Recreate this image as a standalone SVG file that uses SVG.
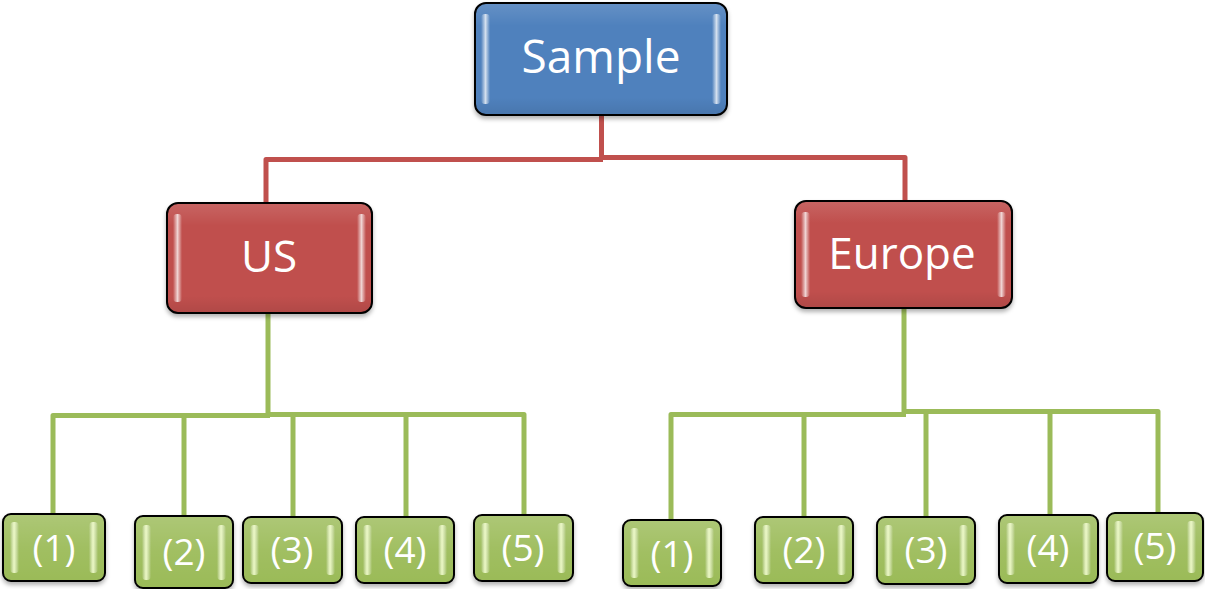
<svg xmlns="http://www.w3.org/2000/svg" width="1205" height="589" viewBox="0 0 1205 589">
  <defs>
    <filter id="shadow" x="-10%" y="-10%" width="120%" height="130%">
      <feDropShadow dx="0" dy="3" stdDeviation="2" flood-color="#000" flood-opacity="0.3"/>
    </filter>
    <!-- glossy sheen from top to bottom -->
    <linearGradient id="sheen" x1="0" y1="0" x2="0" y2="1">
      <stop offset="0" stop-color="#fff" stop-opacity="0.12"/>
      <stop offset="0.2" stop-color="#fff" stop-opacity="0"/>
      <stop offset="0.85" stop-color="#000" stop-opacity="0"/>
      <stop offset="1" stop-color="#000" stop-opacity="0.08"/>
    </linearGradient>
    <!-- lighter body for the small items -->
    <linearGradient id="leafSheen" x1="0" y1="0" x2="0" y2="1">
      <stop offset="0" stop-color="#fff" stop-opacity="0.18"/>
      <stop offset="0.5" stop-color="#fff" stop-opacity="0.06"/>
      <stop offset="1" stop-color="#fff" stop-opacity="0"/>
    </linearGradient>
    <!-- bevel highlight strip -->
    <linearGradient id="hl" x1="0" y1="0" x2="1" y2="0">
      <stop offset="0" stop-color="#fff" stop-opacity="0"/>
      <stop offset="0.5" stop-color="#fff" stop-opacity="0.75"/>
      <stop offset="1" stop-color="#fff" stop-opacity="0"/>
    </linearGradient>
    <linearGradient id="hlLeaf" x1="0" y1="0" x2="1" y2="0">
      <stop offset="0" stop-color="#fff" stop-opacity="0"/>
      <stop offset="0.45" stop-color="#f4ffd0" stop-opacity="0.9"/>
      <stop offset="1" stop-color="#fff" stop-opacity="0"/>
    </linearGradient>
  </defs>
  <style>
    .box { stroke: #000; stroke-width: 2; filter: url(#shadow); }
    .blue { fill: #4f81bd; }
    .red { fill: #c0504d; }
    .green { fill: #9bbb59; }
    .gloss { fill: url(#sheen); }
    .lgloss { fill: url(#leafSheen); }
    .hl { fill: url(#hl); }
    .hll { fill: url(#hlLeaf); }
    .lbl { font-family: "Open Sans", "Liberation Sans", sans-serif; fill: #fff; text-anchor: middle; }
    .big { font-size: 46px; }
    .mid { font-size: 44px; }
    .small { font-size: 37px; }
    .cr { fill: none; stroke: #c0504d; stroke-width: 5; stroke-linejoin: round; }
    .cg { fill: none; stroke: #9bbb59; stroke-width: 5; stroke-linejoin: round; }
  </style>

  <g id="connectors">
    <!-- root to regions -->
    <path class="cr" d="M601.5 115 V158"/>
    <path class="cr" d="M266 205 V159.5 H603"/>
    <path class="cr" d="M600 157.5 H905 V201"/>
    <!-- US to its items -->
    <path class="cg" d="M268 313 V415"/>
    <path class="cg" d="M53 514 V415.5 H270"/>
    <path class="cg" d="M266 414.5 H524 V515"/>
    <path class="cg" d="M184 415.5 V516"/>
    <path class="cg" d="M293 414.5 V517"/>
    <path class="cg" d="M406 414.5 V517"/>
    <!-- Europe to its items -->
    <path class="cg" d="M904 308 V412"/>
    <path class="cg" d="M671 520 V414.5 H906"/>
    <path class="cg" d="M902 411.5 H1158 V513"/>
    <path class="cg" d="M804 414.5 V517"/>
    <path class="cg" d="M926 411.5 V517"/>
    <path class="cg" d="M1050 411.5 V515"/>
  </g>

  <g id="node-sample">
    <rect class="box blue" x="475" y="3" width="252" height="112" rx="11"/>
    <rect class="gloss" x="476" y="4" width="250" height="110" rx="10"/>
    <rect class="hl" x="481" y="14" width="9" height="90" rx="4"/>
    <rect class="hl" x="712" y="14" width="9" height="90" rx="4"/>
    <text class="lbl big" x="601" y="73">Sample</text>
  </g>

  <g id="node-us">
    <rect class="box red" x="167" y="203" width="205" height="110" rx="11"/>
    <rect class="gloss" x="168" y="204" width="203" height="108" rx="10"/>
    <rect class="hl" x="173" y="214" width="9" height="88" rx="4"/>
    <rect class="hl" x="357" y="214" width="9" height="88" rx="4"/>
    <text class="lbl mid" x="269" y="272">US</text>
  </g>

  <g id="node-europe">
    <rect class="box red" x="795" y="201" width="217" height="107" rx="11"/>
    <rect class="gloss" x="796" y="202" width="215" height="105" rx="10"/>
    <rect class="hl" x="801" y="212" width="9" height="85" rx="4"/>
    <rect class="hl" x="997" y="212" width="9" height="85" rx="4"/>
    <text class="lbl mid" x="902" y="269">Europe</text>
  </g>

  <g id="node-us-1">
    <rect class="box green" x="3" y="514" width="102" height="67" rx="8"/>
    <rect class="lgloss" x="4" y="515" width="100" height="65" rx="7"/>
    <rect class="hll" x="10" y="522" width="9" height="51" rx="4"/>
    <rect class="hll" x="89" y="522" width="9" height="51" rx="4"/>
    <text class="lbl small" x="54" y="561">(1)</text>
  </g>
  <g id="node-us-2">
    <rect class="box green" x="135" y="516" width="98" height="72" rx="8"/>
    <rect class="lgloss" x="136" y="517" width="96" height="70" rx="7"/>
    <rect class="hll" x="142" y="525" width="9" height="55" rx="4"/>
    <rect class="hll" x="217" y="525" width="9" height="55" rx="4"/>
    <text class="lbl small" x="184" y="565">(2)</text>
  </g>
  <g id="node-us-3">
    <rect class="box green" x="243" y="517" width="99" height="66" rx="8"/>
    <rect class="lgloss" x="244" y="518" width="97" height="64" rx="7"/>
    <rect class="hll" x="250" y="525" width="9" height="50" rx="4"/>
    <rect class="hll" x="326" y="525" width="9" height="50" rx="4"/>
    <text class="lbl small" x="292" y="563">(3)</text>
  </g>
  <g id="node-us-4">
    <rect class="box green" x="356" y="517" width="98" height="66" rx="8"/>
    <rect class="lgloss" x="357" y="518" width="96" height="64" rx="7"/>
    <rect class="hll" x="363" y="525" width="9" height="50" rx="4"/>
    <rect class="hll" x="438" y="525" width="9" height="50" rx="4"/>
    <text class="lbl small" x="405" y="563">(4)</text>
  </g>
  <g id="node-us-5">
    <rect class="box green" x="474" y="515" width="99" height="66" rx="8"/>
    <rect class="lgloss" x="475" y="516" width="97" height="64" rx="7"/>
    <rect class="hll" x="481" y="523" width="9" height="50" rx="4"/>
    <rect class="hll" x="557" y="523" width="9" height="50" rx="4"/>
    <text class="lbl small" x="523" y="561">(5)</text>
  </g>

  <g id="node-eu-1">
    <rect class="box green" x="623" y="520" width="98" height="66" rx="8"/>
    <rect class="lgloss" x="624" y="521" width="96" height="64" rx="7"/>
    <rect class="hll" x="630" y="528" width="9" height="50" rx="4"/>
    <rect class="hll" x="705" y="528" width="9" height="50" rx="4"/>
    <text class="lbl small" x="672" y="567">(1)</text>
  </g>
  <g id="node-eu-2">
    <rect class="box green" x="755" y="517" width="98" height="66" rx="8"/>
    <rect class="lgloss" x="756" y="518" width="96" height="64" rx="7"/>
    <rect class="hll" x="762" y="525" width="9" height="50" rx="4"/>
    <rect class="hll" x="837" y="525" width="9" height="50" rx="4"/>
    <text class="lbl small" x="804" y="563">(2)</text>
  </g>
  <g id="node-eu-3">
    <rect class="box green" x="877" y="517" width="98" height="67" rx="8"/>
    <rect class="lgloss" x="878" y="518" width="96" height="65" rx="7"/>
    <rect class="hll" x="884" y="525" width="9" height="51" rx="4"/>
    <rect class="hll" x="959" y="525" width="9" height="51" rx="4"/>
    <text class="lbl small" x="926" y="563">(3)</text>
  </g>
  <g id="node-eu-4">
    <rect class="box green" x="999" y="515" width="99" height="68" rx="8"/>
    <rect class="lgloss" x="1000" y="516" width="97" height="66" rx="7"/>
    <rect class="hll" x="1006" y="523" width="9" height="52" rx="4"/>
    <rect class="hll" x="1082" y="523" width="9" height="52" rx="4"/>
    <text class="lbl small" x="1048" y="561">(4)</text>
  </g>
  <g id="node-eu-5">
    <rect class="box green" x="1107" y="513" width="96" height="68" rx="8"/>
    <rect class="lgloss" x="1108" y="514" width="94" height="66" rx="7"/>
    <rect class="hll" x="1114" y="521" width="9" height="52" rx="4"/>
    <rect class="hll" x="1187" y="521" width="9" height="52" rx="4"/>
    <text class="lbl small" x="1155" y="559">(5)</text>
  </g>
</svg>
